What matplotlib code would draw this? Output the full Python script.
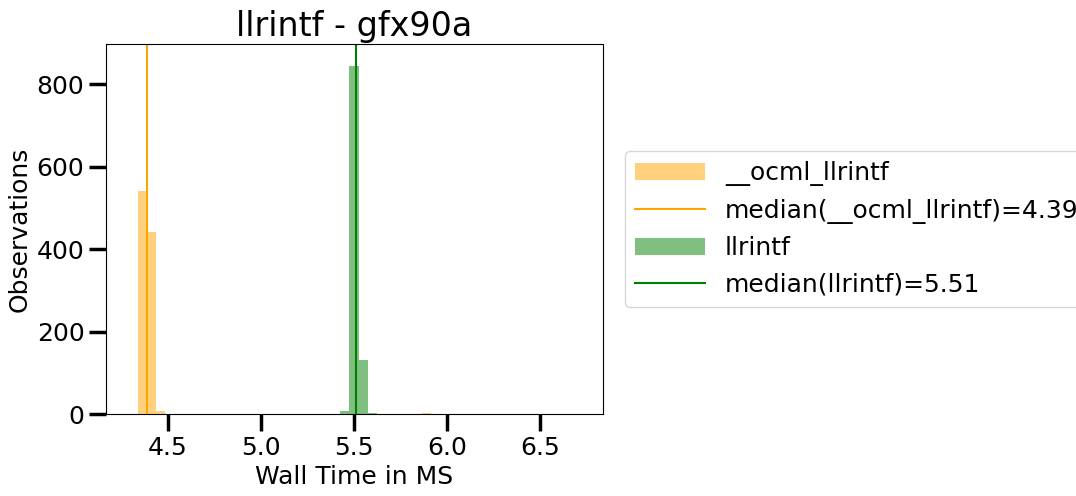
import numpy as np
import matplotlib
matplotlib.use("Agg")
import matplotlib.pyplot as plt

# histogram counts
ocml_edges = [4.341, 4.389, 4.437, 4.485]
ocml_counts = [542, 442, 8]
ocml_outlier_edges = [5.865, 5.913]
ocml_outlier_counts = [2]
ocml_median = 4.39

llrintf_edges = [5.425, 5.475, 5.525, 5.575, 5.625]
llrintf_counts = [7, 845, 132, 2]
llrintf_median = 5.51

plt.rcParams['font.size'] = 18

fig = plt.figure(figsize=(10.76, 4.96), dpi=100)
ax = fig.add_axes([0.0985, 0.165, 0.4615, 0.746])

def draw_hist(edges, counts, color):
    edges = np.array(edges)
    return ax.bar(edges[:-1], counts, width=np.diff(edges), align='edge',
                  color=color, alpha=0.5, linewidth=0)

h1 = draw_hist(ocml_edges, ocml_counts, 'orange')
draw_hist(ocml_outlier_edges, ocml_outlier_counts, 'orange')
h2 = ax.axvline(ocml_median, color='orange', lw=1.5)
h3 = draw_hist(llrintf_edges, llrintf_counts, 'green')
h4 = ax.axvline(llrintf_median, color='green', lw=1.5)

ax.set_xlim(4.169, 6.833)
ax.set_ylim(0, 897)
ax.set_xticks([4.5, 5.0, 5.5, 6.0, 6.5])
ax.set_yticks([0, 200, 400, 600, 800])
ax.tick_params(length=12, width=2.5, labelsize=18)
ax.set_title('llrintf - gfx90a', fontsize=24)
ax.set_xlabel('Wall Time in MS', fontsize=18)
ax.set_ylabel('Observations', fontsize=18)
ax.legend([h1, h2, h3, h4],
          ['__ocml_llrintf', f'median(__ocml_llrintf)={ocml_median}',
           'llrintf', f'median(llrintf)={llrintf_median}'],
          loc='center left', bbox_to_anchor=(1.02, 0.5), fontsize=18,
          handlelength=2.8)

fig.savefig('out.png', dpi=100)
